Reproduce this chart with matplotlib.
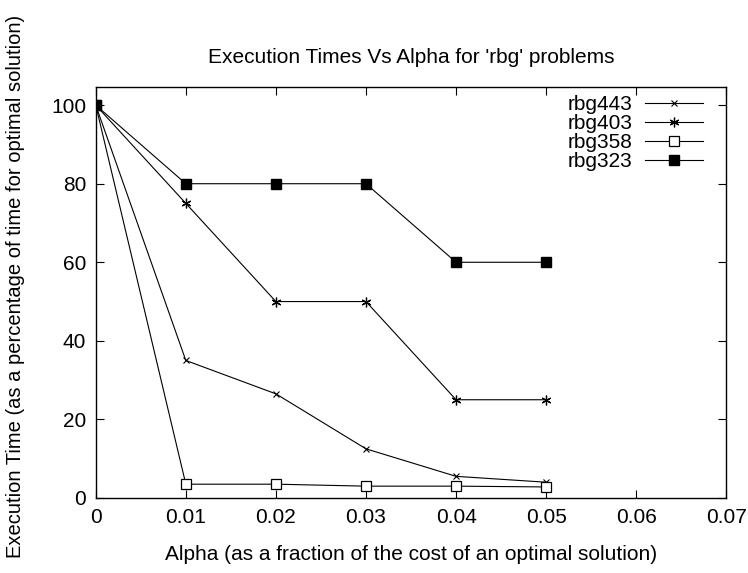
import numpy as np
import matplotlib
matplotlib.use('Agg')
import matplotlib.pyplot as plt

plt.rcParams['font.family'] = ['Liberation Sans', 'DejaVu Sans']

# data
alpha = [0.0, 0.01, 0.02, 0.03, 0.04, 0.05]
rbg443 = [100, 35, 26.5, 12.5, 5.5, 4]
rbg403 = [100, 75, 50, 50, 25, 25]
rbg358 = [100, 3.5, 3.5, 3, 3, 2.8]
rbg323 = [100, 80, 80, 80, 60, 60]

xticks = [0, 0.01, 0.02, 0.03, 0.04, 0.05, 0.06, 0.07]
xticklabels = ['0', '0.01', '0.02', '0.03', '0.04', '0.05', '0.06', '0.07']
yticks = [0, 20, 40, 60, 80, 100]

fs = 15

fig = plt.figure(figsize=(7.48, 5.73), dpi=100)
ax = fig.add_axes([0.128, 0.131, 0.843, 0.717])

ax.plot(alpha, rbg443, color='black', lw=0.8, marker='x', ms=5, mew=0.8, label='rbg443')
ax.plot(alpha, rbg403, color='black', lw=0.8, marker=(6, 2, 0), ms=7, mew=0.9, label='rbg403')
ax.plot(alpha, rbg358, color='black', lw=0.8, marker='s', ms=7, mfc='white', mew=0.9, label='rbg358')
ax.plot(alpha, rbg323, color='black', lw=0.8, marker='s', ms=7, mfc='black', label='rbg323')

ax.set_xlim(0, 0.07)
ax.set_ylim(0, 104.6)
ax.set_xticks(xticks)
ax.set_xticklabels(xticklabels)
ax.set_yticks(yticks)
ax.tick_params(direction='in', top=True, right=True, length=6, labelsize=fs, pad=7)
for s in ax.spines.values():
    s.set_linewidth(1.0)

ax.set_title("Execution Times Vs Alpha for 'rbg' problems", fontsize=fs, pad=17)
ax.set_xlabel('Alpha (as a fraction of the cost of an optimal solution)', fontsize=fs, labelpad=13)
fig.text(0.021, 0.5, 'Execution Time (as a percentage of time for optimal solution)',
         rotation=90, ha='center', va='center', fontsize=14.5)

ax.legend(loc='upper right', frameon=False, markerfirst=False, fontsize=fs,
          handlelength=2.8, handletextpad=0.6, labelspacing=0.0,
          borderaxespad=0, borderpad=0, bbox_to_anchor=(0.963, 0.98))

plt.savefig('out.png', dpi=100)
